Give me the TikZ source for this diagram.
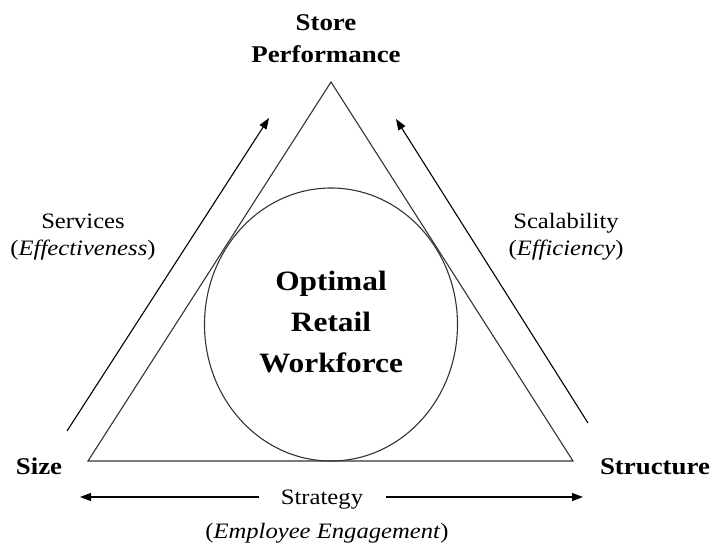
\documentclass[tikz,border=0pt]{standalone}
\usepackage{fontspec}
\setmainfont{Liberation Serif}
\newfontfamily\wideserif[FakeStretch=1.12]{Liberation Serif}
\usetikzlibrary{arrows.meta}
\tikzset{
  edge/.style={draw=black!80, line width=1.1pt},
  flow/.style={draw=black, line width=1.1pt, -{Triangle[length=11pt,width=8pt]}},
  head/.style={font=\wideserif\bfseries\fontsize{24}{28}\selectfont, anchor=base, inner sep=0pt},
  core/.style={font=\wideserif\bfseries\fontsize{28}{32}\selectfont, anchor=base, inner sep=0pt},
  side/.style={font=\wideserif\fontsize{22}{26}\selectfont, anchor=base, inner sep=0pt},
}
\begin{document}
\begin{tikzpicture}[x=1pt,y=-1pt]
\useasboundingbox (0,0) rectangle (712,544);
% triangle vertices
\coordinate (T) at (331,82);
\coordinate (L) at (88,461);
\coordinate (R) at (573,461);
\draw[edge] (T) -- (L) -- (R) -- cycle;
% inscribed ellipse
\coordinate (C) at (331,324.5);
\draw[edge] (C) ellipse [x radius=126.5pt, y radius=136.5pt];
% labels
\node[head] (store) at (326,30) {Store};
\node[head] (perf) at (326,62) {Performance};
\node[head] (size) at (39,474) {Size};
\node[head] (struct) at (655,474) {Structure};
\node[core] (opt) at (331,290) {Optimal};
\node[core] (ret) at (331,331) {Retail};
\node[core] (work) at (331,372) {Workforce};
\node[side] (serv) at (83,228) {Services};
\node[side] (eff) at (83,255) {(\textit{Effectiveness})};
\node[side] (scal) at (566,228) {Scalability};
\node[side] (effi) at (566,255) {(\textit{Efficiency})};
\node[side] (strat) at (322,504) {Strategy};
\node[side] (emp) at (327,538) {(\textit{Employee Engagement})};
% arrows
\coordinate (la0) at (67,431);
\coordinate (la1) at (269,118);
\coordinate (ra0) at (588,423);
\coordinate (ra1) at (396,119);
\coordinate (ba0) at (259,497);
\coordinate (ba1) at (80,497);
\coordinate (bb0) at (386,497);
\coordinate (bb1) at (583,497);
\draw[flow] (la0) -- (la1);
\draw[flow] (ra0) -- (ra1);
\draw[flow] (ba0) -- (ba1);
\draw[flow] (bb0) -- (bb1);
\end{tikzpicture}
\end{document}
